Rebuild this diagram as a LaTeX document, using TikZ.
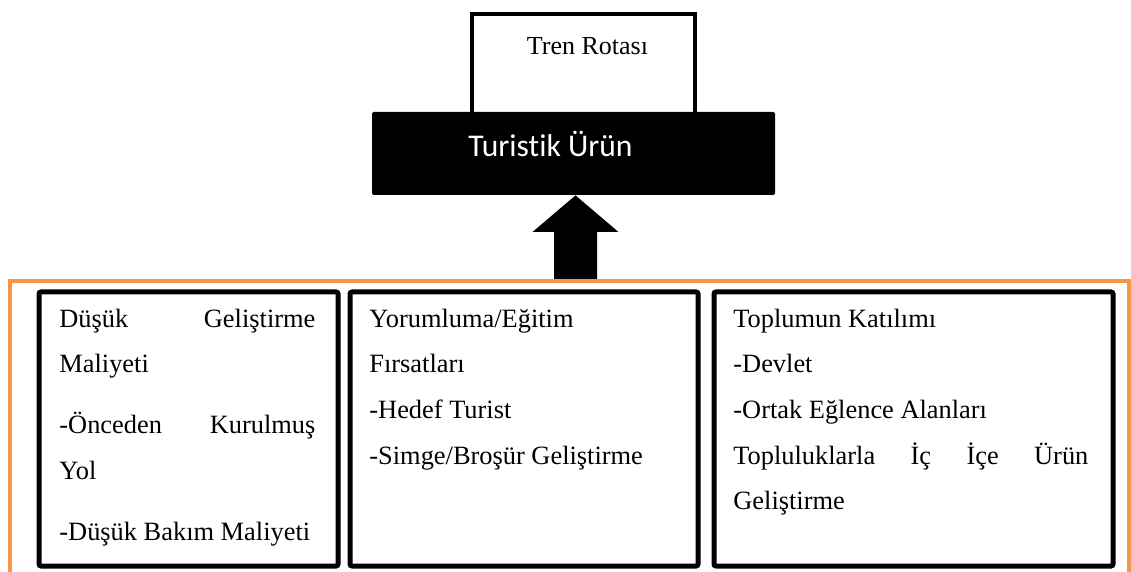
\documentclass[tikz,border=0pt]{standalone}
\usepackage{fontspec}
\setmainfont{Liberation Serif}
\newfontfamily\calibri[Ligatures=NoCommon]{Carlito}
\usetikzlibrary{calc}

\definecolor{framecol}{HTML}{F79646}
\setlength{\parindent}{0pt}

\tikzset{
	card/.style={draw, line width=2.5pt, rounded corners=1pt, anchor=north west, inner sep=0pt, minimum height=137pt},
	cardtext/.style={anchor=north west, inner sep=0pt, align=flush left, font=\fontsize{13.2}{22.8}\selectfont},
}

\begin{document}
\begin{tikzpicture}[x=0.5pt, y=-0.5pt]

	\useasboundingbox (0,0) rectangle (1131,572);

	\node [draw, line width=2pt, anchor=north west, inner sep=0pt, minimum width=111.5pt, minimum height=69pt] (route) at (469.5,12.5) {};
	\node [anchor=base, inner sep=0pt, font=\fontsize{13}{15}\selectfont] (routetext) at (587.5,55) {Tren Rotası};

	\node [fill=black, rounded corners=1pt, inner sep=0pt, minimum width=201.5pt, minimum height=41.5pt] (product) at (573.5,153.5) {};
	\node [anchor=base west, inner sep=0pt, text=white, font=\calibri\fontsize{15.8}{18}\selectfont] (producttext) at (468,157) {Turistik Ürün};

	% arrow up to the product
	\coordinate (base) at (575.5,281);
	\fill ($(base)+(-21.5,0)$) -- ($(base)+(-21.5,-49)$) -- ($(base)+(-43,-49)$) -- (base |- product.south)
		-- ($(base)+(43,-49)$) -- ($(base)+(21.5,-49)$) -- ($(base)+(21.5,0)$) -- cycle;

	\draw [framecol, line width=2pt] (10,572) -- (10,281) -- (1128.5,281) -- (1128.5,572);

	%%%%%%%%%%%%%%%%%%%%%%%%%%%%%%%%%%%%%%%%%%%%%%%%%%%%%%%%%%%%%%%%

	\node [card, minimum width=149.5pt] (cost) at (36.5,289.5) {};
	\node [cardtext, text width=128pt] (costtext) at (59,295) {\strut Düşük\hfill Geliştirme\\ Maliyeti\\[7.6pt] -Önceden\hfill Kurulmuş\\ Yol\\[7.6pt] -Düşük Bakım Maliyeti};

	\node [card, minimum width=174pt] (interp) at (347.5,289.5) {};
	\node [cardtext, text width=150pt] (interptext) at (369,295) {\strut Yorumluma/Eğitim\\ Fırsatları\\ -Hedef Turist\\ -Simge/Broşür Geliştirme};

	\node [card, minimum width=199.5pt] (society) at (711.5,289.5) {};
	\node [cardtext, text width=177.5pt] (societytext) at (733,295) {\strut Toplumun Katılımı\\ -Devlet\\ -Ortak Eğlence Alanları\\ Topluluklarla\hfill İç\hfill İçe\hfill Ürün\\ Geliştirme};

\end{tikzpicture}
\end{document}
